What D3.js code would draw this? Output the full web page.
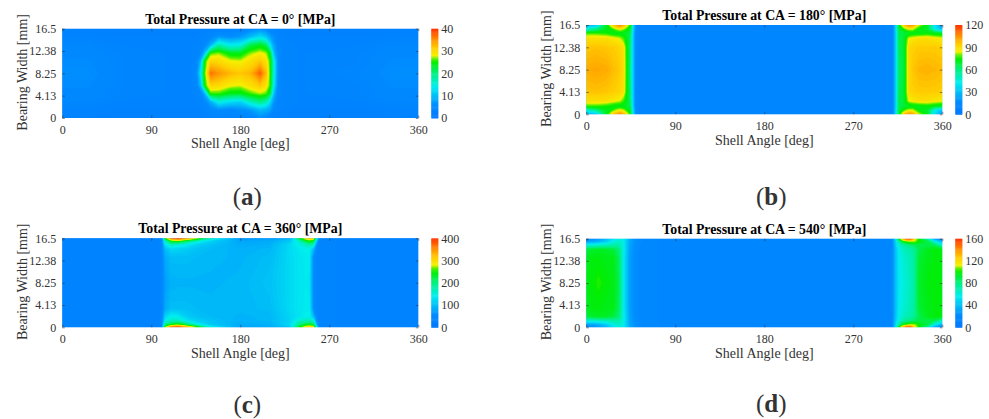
<!DOCTYPE html>
<html>
<head>
<meta charset="utf-8">
<script src="https://cdn.jsdelivr.net/npm/d3@7"></script>
<style>
  html, body { margin: 0; background: #fff; }
  text { font-family: "Liberation Serif", serif; fill: #333; }
  .tick text { font-size: 12px; }
  .title { font-size: 13.8px; font-weight: bold; fill: #000; }
  .label { font-size: 14px; }
</style>
</head>
<body>
<script>
// ticks shared by all four maps
const angleTicks = [0, 90, 180, 270, 360];
const widthTicks = [0, 4.13, 8.25, 12.38, 16.5];
const colorStops = [0, 0.14, 0.35, 0.5, 0.62, 0.66, 0.7, 0.78, 0.88, 1];
const colorList = ['#0078ff', '#008cff', '#00eef0', '#00f080', '#00ee00', '#50f000', '#f4f000', '#ffd000', '#ff9000', '#ff3000'];

// (a) CA = 0, rows run from the top edge down
const titleA = 'Total Pressure at CA = 0° [MPa]';
const scaleA = [0, 10, 20, 30, 40];
const anglesA = [0, 25, 60, 110, 130, 136, 140, 144, 150, 158, 170, 180, 190, 200, 206, 210, 214, 218, 224, 240, 300, 335, 360];
const widthsA = [16.5, 15, 13.5, 12, 10.5, 8.25, 6, 4.5, 3, 1.5, 0];
const pressureA = [
  [3, 3, 3, 3, 3, 3, 3, 3, 3, 3, 3.5, 4, 5, 6, 5, 4, 4, 3.5, 3, 3, 3, 3, 3],
  [3.5, 3.5, 3, 3, 3, 3, 3.5, 4, 5, 7, 6, 7, 10, 13, 11, 8, 6, 4, 3.5, 3, 3, 3.5, 3.5],
  [4.5, 4.5, 3.5, 3.5, 3.5, 4, 4, 5, 9, 18, 14, 15, 22, 24, 22, 14, 8, 5, 4, 3.5, 3.5, 4.5, 4.5],
  [5, 5, 4, 3.5, 3.5, 4, 5, 10, 26, 27, 24, 24, 27, 28.5, 27.5, 24, 10, 6, 4, 3.5, 4, 5, 5],
  [5.5, 5.5, 4, 3.5, 3.5, 5, 10, 25, 31, 30.5, 28.5, 28, 30, 32, 30, 26, 15, 6, 4, 3.5, 4, 5.5, 5.5],
  [6, 6, 4, 3.5, 3.5, 6, 14, 26, 37, 35, 33, 32, 33, 38, 33, 26, 15, 6, 4, 3.5, 4.5, 6, 6],
  [5.5, 5.5, 4, 3.5, 3.5, 5, 10, 25, 31, 30.5, 28.5, 28, 30, 32, 30, 26, 14, 5.5, 4, 3.5, 4, 5.5, 5.5],
  [5, 5, 4, 3.5, 3.5, 4, 5, 9, 26, 26, 24, 24, 26, 27.5, 26.5, 23, 10, 5, 4, 3.5, 4, 5, 5],
  [4.5, 4.5, 3.5, 3.5, 3.5, 3.5, 4, 5, 9, 15, 13, 12, 17, 20, 18, 13, 7, 4.5, 4, 3.5, 3.5, 4.5, 4.5],
  [3.5, 3.5, 3, 3, 3, 3, 3.5, 4, 5, 6, 5, 6, 7, 10, 9, 8, 5, 4, 3.5, 3, 3, 3.5, 3.5],
  [3, 3, 3, 3, 3, 3, 3, 3, 3, 3.5, 3.5, 3.5, 4, 6, 5, 4, 3.5, 3, 3, 3, 3, 3, 3]
];

// (b) CA = 180
const titleB = 'Total Pressure at CA = 180° [MPa]';
const scaleB = [0, 30, 60, 90, 120];
const anglesB = [0, 10, 20, 25, 30, 34, 38, 41, 44, 47, 50, 56, 180, 300, 310, 313, 316, 320, 323, 326, 330, 336, 345, 352, 360];
const widthsB = [16.5, 15.7, 15, 14, 12.38, 8.25, 4.13, 2.5, 1.5, 0.8, 0];
const pressureB = [
  [25, 30, 70, 88, 102, 108, 100, 88, 78, 45, 15, 12, 12, 12, 14, 38, 70, 90, 100, 106, 104, 85, 72, 40, 18],
  [50, 60, 72, 75, 82, 86, 82, 76, 72, 42, 15, 12, 12, 12, 14, 38, 68, 74, 80, 84, 84, 74, 70, 45, 30],
  [78, 78, 76, 74, 72, 72, 72, 70, 68, 38, 15, 12, 12, 12, 14, 36, 66, 68, 70, 70, 72, 72, 74, 72, 70],
  [90, 90, 90, 88, 86, 84, 78, 72, 65, 36, 15, 12, 12, 12, 14, 36, 66, 68, 74, 85, 87, 90, 90, 88, 86],
  [96, 97, 96, 95, 94, 92, 88, 74, 64, 36, 15, 12, 12, 12, 14, 36, 65, 68, 76, 91, 94, 95, 95, 95, 94],
  [101, 102, 101, 99, 97, 95, 90, 74, 62, 36, 15, 12, 12, 12, 14, 36, 64, 66, 76, 92, 96, 99, 100, 99, 98],
  [96, 97, 96, 95, 94, 92, 88, 74, 64, 36, 15, 12, 12, 12, 14, 36, 65, 68, 76, 91, 94, 95, 95, 95, 94],
  [90, 90, 90, 88, 86, 84, 78, 72, 65, 36, 15, 12, 12, 12, 14, 36, 66, 68, 74, 85, 87, 90, 90, 88, 86],
  [78, 78, 76, 74, 72, 72, 72, 70, 68, 38, 15, 12, 12, 12, 14, 36, 66, 68, 70, 70, 72, 72, 74, 72, 70],
  [50, 60, 72, 75, 82, 86, 82, 76, 72, 42, 15, 12, 12, 12, 14, 38, 68, 74, 80, 84, 84, 74, 70, 45, 30],
  [25, 30, 70, 88, 102, 108, 100, 88, 78, 45, 15, 12, 12, 12, 14, 38, 70, 90, 100, 106, 104, 85, 72, 40, 18]
];

// (c) CA = 360
const titleC = 'Total Pressure at CA = 360° [MPa]';
const scaleC = [0, 100, 200, 300, 400];
const anglesC = [0, 98, 101, 104, 110, 117, 125, 135, 150, 180, 210, 230, 240, 246, 250, 254, 257, 260, 280, 360];
const widthsC = [16.5, 16, 15.3, 14.5, 13, 8.25, 3.5, 2, 1.2, 0.5, 0];
const pressureC = [
  [35, 35, 60, 250, 370, 395, 350, 290, 180, 65, 70, 90, 240, 300, 320, 310, 170, 40, 35, 35],
  [35, 35, 60, 170, 240, 260, 220, 170, 120, 80, 85, 110, 170, 230, 250, 230, 110, 40, 35, 35],
  [35, 35, 60, 130, 170, 150, 140, 120, 105, 85, 90, 125, 150, 165, 180, 170, 70, 40, 35, 35],
  [35, 35, 55, 100, 125, 120, 115, 105, 98, 90, 95, 125, 140, 145, 145, 100, 55, 38, 35, 35],
  [35, 35, 50, 85, 100, 100, 100, 98, 95, 92, 100, 125, 135, 140, 140, 60, 50, 38, 35, 35],
  [35, 35, 50, 75, 90, 92, 92, 92, 92, 95, 105, 125, 135, 138, 135, 55, 48, 38, 35, 35],
  [35, 35, 50, 85, 100, 100, 100, 98, 95, 95, 100, 125, 135, 140, 140, 60, 50, 38, 35, 35],
  [35, 35, 55, 120, 145, 140, 115, 105, 98, 92, 95, 120, 135, 145, 145, 100, 55, 38, 35, 35],
  [35, 35, 58, 140, 170, 170, 140, 120, 105, 90, 95, 120, 165, 170, 175, 160, 70, 40, 35, 35],
  [35, 35, 60, 200, 240, 265, 220, 160, 110, 85, 90, 125, 200, 230, 240, 220, 100, 40, 35, 35],
  [35, 35, 60, 280, 380, 395, 350, 280, 160, 80, 85, 110, 250, 310, 330, 310, 160, 40, 35, 35]
];

// (d) CA = 540
const titleD = 'Total Pressure at CA = 540° [MPa]';
const scaleD = [0, 40, 80, 120, 160];
const anglesD = [0, 8, 12, 20, 28, 33, 37, 40, 44, 50, 60, 90, 180, 270, 300, 309, 312, 316, 320, 324, 328, 332, 336, 345, 352, 360];
const widthsD = [16.5, 16, 15.3, 14.5, 13, 8.25, 3.5, 2, 1.2, 0.5, 0];
const pressureD = [
  [22, 25, 30, 40, 55, 62, 60, 50, 35, 24, 20, 16, 16, 16, 17, 18, 45, 95, 135, 155, 155, 125, 100, 70, 30, 22],
  [30, 32, 35, 45, 60, 65, 60, 48, 33, 24, 20, 16, 16, 16, 17, 18, 42, 75, 95, 105, 110, 110, 100, 90, 60, 35],
  [62, 64, 66, 68, 72, 72, 62, 48, 32, 23, 19, 16, 16, 16, 17, 18, 40, 62, 72, 78, 82, 85, 90, 90, 88, 65],
  [92, 94, 95, 94, 90, 82, 62, 48, 31, 23, 19, 16, 16, 16, 17, 18, 38, 58, 66, 70, 72, 78, 88, 96, 98, 98],
  [97, 98, 98, 97, 96, 86, 62, 46, 30, 22, 19, 16, 16, 16, 17, 18, 38, 56, 62, 66, 70, 76, 92, 97, 98, 98],
  [98, 100, 103, 99, 97, 88, 62, 46, 30, 22, 19, 16, 16, 16, 17, 18, 38, 55, 60, 64, 68, 75, 94, 98, 99, 99],
  [97, 98, 98, 97, 96, 86, 62, 46, 30, 22, 19, 16, 16, 16, 17, 18, 38, 56, 62, 66, 70, 76, 92, 97, 98, 98],
  [92, 94, 95, 94, 90, 82, 62, 48, 31, 23, 19, 16, 16, 16, 17, 18, 38, 58, 66, 70, 72, 78, 88, 96, 98, 98],
  [62, 64, 66, 68, 72, 72, 62, 48, 32, 23, 19, 16, 16, 16, 17, 18, 40, 62, 72, 78, 82, 85, 90, 90, 88, 65],
  [30, 32, 35, 45, 60, 65, 60, 48, 33, 24, 20, 16, 16, 16, 17, 18, 42, 75, 95, 105, 110, 110, 100, 90, 60, 35],
  [22, 25, 30, 40, 55, 62, 60, 50, 35, 24, 20, 16, 16, 16, 17, 18, 45, 95, 135, 155, 155, 125, 100, 70, 30, 22]
];

const svg = d3.select('body').append('svg')
  .attr('width', 989)
  .attr('height', 419);

const blur = svg.append('defs').append('filter')
  .attr('id', 'soft')
  .attr('color-interpolation-filters', 'sRGB');
blur.append('feGaussianBlur').attr('stdDeviation', 0.7);

function drawMap(id, letter, left, top, plotH, tagY, titleText, scaleTicks, angles, widths, rows) {
  const plotW = 356;
  const max = scaleTicks[scaleTicks.length - 1];
  const g = svg.append('g').attr('transform', `translate(${left}, ${top})`);

  const x = d3.scaleLinear().domain([0, 360]).range([0, plotW]);
  const y = d3.scaleLinear().domain([0, 16.5]).range([plotH, 0]);
  const color = d3.scaleLinear()
    .domain(colorStops.map(s => s * max))
    .range(colorList)
    .clamp(true);

  // grid index -> chart position, cells are centred on i + 0.5 in d3.contours
  const edges = list => [0, ...list.map((d, i) => i + 0.5), list.length];
  const xGrid = d3.scaleLinear()
    .domain(edges(angles))
    .range([angles[0], ...angles, angles[angles.length - 1]].map(x));
  const yGrid = d3.scaleLinear()
    .domain(edges(widths))
    .range([widths[0], ...widths, widths[widths.length - 1]].map(y));
  const path = d3.geoPath(d3.geoTransform({
    point(a, b) { this.stream.point(xGrid(a), yGrid(b)); }
  }));

  const levels = d3.contours()
    .size([angles.length, widths.length])
    .thresholds(d3.range(0, max, max / 90))(rows.flat());

  g.append('clipPath').attr('id', 'clip' + id)
    .append('rect').attr('width', plotW).attr('height', plotH);

  const map = g.append('g').attr('clip-path', `url(#clip${id})`);
  map.append('rect')
    .attr('width', plotW)
    .attr('height', plotH)
    .attr('fill', color(rows[0][0]));
  map.append('g')
    .attr('filter', 'url(#soft)')
    .selectAll('path')
    .data(levels)
    .join('path')
    .attr('d', path)
    .attr('fill', d => color(d.value));

  // axes, ticks point inward like the matlab box
  const xAxis = g.append('g').attr('transform', `translate(0, ${plotH})`)
    .call(d3.axisBottom(x).tickValues(angleTicks).tickSize(-2.5).tickPadding(7));
  const xTop = g.append('g')
    .call(d3.axisTop(x).tickValues(angleTicks).tickSize(-2.5).tickFormat(''));
  const yAxis = g.append('g')
    .call(d3.axisLeft(y).tickValues(widthTicks).tickSize(-2.5).tickPadding(6).tickFormat(d => d));
  const yRight = g.append('g').attr('transform', `translate(${plotW}, 0)`)
    .call(d3.axisRight(y).tickValues(widthTicks).tickSize(-2.5).tickFormat(''));
  [xAxis, xTop, yAxis, yRight].forEach(a => {
    a.select('.domain').remove();
    a.selectAll('line').attr('stroke', '#333').attr('stroke-width', 0.6);
  });

  // colour bar
  const barX = plotW + 13;
  const barScale = d3.scaleLinear().domain([0, max]).range([plotH, 0]);
  const steps = d3.range(0, max, max / 100);
  g.append('g').selectAll('rect')
    .data(steps)
    .join('rect')
    .attr('x', barX)
    .attr('width', 7)
    .attr('y', d => barScale(d + max / 100))
    .attr('height', d => barScale(d) - barScale(d + max / 100) + 0.5)
    .attr('fill', d => color(d));
  const barAxis = g.append('g').attr('transform', `translate(${barX + 7}, 0)`)
    .call(d3.axisRight(barScale).tickValues(scaleTicks).tickSize(0).tickPadding(3));
  barAxis.select('.domain').remove();

  g.append('text')
    .attr('class', 'title')
    .attr('x', plotW / 2)
    .attr('y', -5)
    .attr('text-anchor', 'middle')
    .text(titleText);

  g.append('text')
    .attr('class', 'label')
    .attr('x', plotW / 2)
    .attr('y', plotH + 30.5)
    .attr('text-anchor', 'middle')
    .text('Shell Angle [deg]');

  g.append('text')
    .attr('class', 'label')
    .attr('transform', `translate(-35, ${plotH / 2 - 1}) rotate(-90)`)
    .attr('text-anchor', 'middle')
    .text('Bearing Width [mm]');

  const tag = g.append('text')
    .attr('x', plotW / 2 + 7)
    .attr('y', tagY - top)
    .attr('text-anchor', 'middle')
    .style('font-size', '25px');
  tag.append('tspan').text('(');
  tag.append('tspan').style('font-weight', 'bold').text(letter);
  tag.append('tspan').text(')');
}

drawMap('A', 'a', 62.3, 28.7, 89.3, 205, titleA, scaleA, anglesA, widthsA, pressureA);
drawMap('B', 'b', 586.3, 25, 89.3, 205, titleB, scaleB, anglesB, widthsB, pressureB);
drawMap('C', 'c', 62.3, 238.3, 89, 413, titleC, scaleC, anglesC, widthsC, pressureC);
drawMap('D', 'd', 586.3, 238.7, 88.6, 412, titleD, scaleD, anglesD, widthsD, pressureD);
</script>
</body>
</html>
